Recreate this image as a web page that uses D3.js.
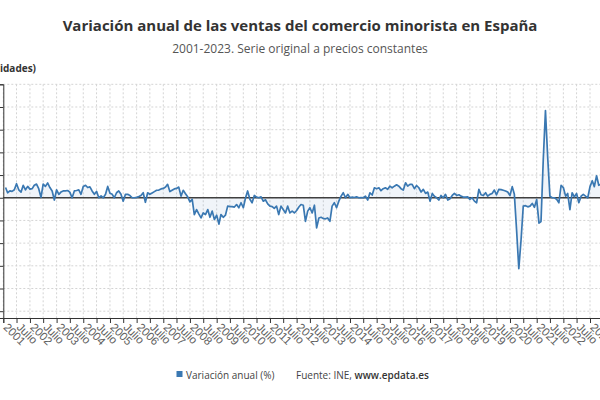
<!DOCTYPE html>
<html><head><meta charset="utf-8">
<script src="https://cdn.jsdelivr.net/npm/d3@7"></script>
<style>
html,body{margin:0;padding:0;background:#fff;overflow:hidden}
svg{display:block;font-family:"Open Sans",sans-serif}
</style></head><body>
<svg id="chart" width="600" height="400"></svg>
<script>
const title = "Variación anual de las ventas del comercio minorista en España";
const subtitle = "2001-2023. Serie original a precios constantes";
const yAxisTitle = "(Unidades)";
const seriesName = "Variación anual (%)";
const sourceLabel = "Fuente: INE, ";
const sourceLink = "www.epdata.es";
const startYear = 2001;
const tickYears = d3.range(2001, 2024);
const midYearLabel = "Julio";
const yTicks = [-50, -40, -30, -20, -10, 0, 10, 20, 30, 40, 50];
// monthly values from January 2001, one row per year
const values = [
  4.5, 2.2, 3, 2.8, 3.5, 6.2, 3.5, 2.5, 5.5, 3.5, 5, 3.8,
  4, 5.5, 6, 4, 0.2, 6, 5, 6.5, 4.5, 3, -1, 3.5,
  1.5, 2.5, 3, 3, 3.2, 2.5, 0, 3, 3.2, 3.5, 1.5, 5,
  5.5, 4.5, 4.8, 3, 1.5, 2.8, 0, 0.8, 0, 1.5, 5, 2,
  1.5, 0, 2.2, 3, 1.5, -1.5, 1.5, 1.5, 1, 0, 0, 0.2,
  0.5, 1, 2.2, -2, 2.2, 1.5, 2.1, 2.7, 3.3, 3.4, 3.9, 4.1,
  4.7, 5.9, 2.7, 3.3, 3.9, 4.1, 4.7, 0.7, 3.3, 1.8, 0.4, -1.8,
  -0.7, -7.4, -5.2, -7.1, -8.9, -6.7, -7.4, -5.2, -8.6, -5.9, -9.6, -7.7,
  -11.6, -7.4, -8.6, -7.7, -3.7, -3.9, -3.9, -4.1, -3, -4.4, -2.2, -4.4,
  0, 3, -0.7, -2.2, 1, 0.3, 0, 0.4, -1.5, -0.9, -2.7, -3.7,
  -3.9, -4.7, -3.7, -7.4, -3.7, -5.2, -6.7, -3.7, -6.7, -5.9, -6.7, -5.6,
  -4.1, -3, -3.3, -10.4, -5.9, -4.4, -6.7, -3.3, -13.3, -8.9, -8.6, -9.2,
  -9.3, -8.9, -10.4, -3.7, -2.2, -4.4, -1.5, 0.7, 2.2, 0, 1.5, 0,
  0.3, 0.1, 0.4, 0, 0.1, 0, 0.7, -1, 2.2, 1.2, 4.4, 4,
  4.4, 3.1, 4, 4.4, 3.7, 5.1, 4.4, 5.1, 5.7, 5.1, 4, 3.4,
  6.6, 5.1, 5.9, 5.9, 4, 5.4, 4.4, 2.5, 3.7, 1.9, 2.5, -1.5,
  1.9, 0.7, 0, -1, 1, 0, 1.5, -1, -0.4, 1, 1.9, 1,
  1.3, 0.7, 0.3, 0.3, 0.4, -0.7, 0, -1.5, -2.2, 3.7, 1.3, 1,
  2.2, 0.7, 1.5, 1.9, 3.4, 1.3, 3.7, 3.6, 3.3, 3, 2.5, 1,
  4.9, 1.5, -14.5, -31.3, -18.5, -3.7, -3.5, -4, -3.7, -2.5, -4.2, -0.8,
  -11.2, -10.5, 17, 38.4, 17.5, 0.7, 0, 0, -0.7, -2.2, 5.5, 4.5,
  0.7, 1.9, -5.2, 2.2, 0.4, 1.9, -2.2, 0.7, 1.5, 0.7, 0, 4.9,
  7.5, 4.9, 9.7, 5.5, 6
];

const lineColor = "#3a78b2";
const svg = d3.select("#chart");
const plotTop = 84.3, plotBottom = 318, plotLeft = 3.3;

// value for month i is plotted at the end of its month
const data = values.map((v, i) => ({ date: new Date(startYear, i + 1, 1), value: v }));

const x = d3.scaleTime()
  .domain([new Date(2001, 0, 1), new Date(2025, 0, 1)])
  .range([plotLeft, plotLeft + 24 * 26.67]);
const y = d3.scaleLinear().domain([-53, 50]).range([plotBottom, plotTop]);
const xEnd = x.range()[1];

const tickDates = [];
tickYears.forEach(yr => { tickDates.push(new Date(yr, 0, 1)); tickDates.push(new Date(yr, 6, 1)); });

// grid
const grid = svg.append("g");
grid.selectAll("line.v").data(tickDates).join("line")
  .attr("x1", d => x(d)).attr("x2", d => x(d))
  .attr("y1", plotTop).attr("y2", plotBottom)
  .attr("stroke", "#d4d4d4").attr("stroke-width", 1).attr("stroke-dasharray", "2,2");
grid.selectAll("line.h").data(yTicks).join("line")
  .attr("x1", plotLeft).attr("x2", xEnd)
  .attr("y1", d => y(d)).attr("y2", d => y(d))
  .attr("stroke", "#d4d4d4").attr("stroke-width", 1).attr("stroke-dasharray", "2,2");

// area + line
svg.append("path").datum(data)
  .attr("fill", lineColor).attr("fill-opacity", 0.08)
  .attr("d", d3.area().x(d => x(d.date)).y0(y(0)).y1(d => y(d.value)));

svg.append("line")
  .attr("x1", plotLeft).attr("x2", xEnd).attr("y1", y(0)).attr("y2", y(0))
  .attr("stroke", "#404040").attr("stroke-width", 1.5);

svg.append("path").datum(data)
  .attr("fill", "none").attr("stroke", lineColor).attr("stroke-width", 1.7)
  .attr("stroke-linejoin", "round")
  .attr("d", d3.line().x(d => x(d.date)).y(d => y(d.value)));

// axes (y tick labels fall outside the visible frame, only tick marks show)
const yAxis = svg.append("g").attr("transform", `translate(${plotLeft},0)`)
  .call(d3.axisLeft(y).tickValues(yTicks).tickSize(4).tickFormat(""));
yAxis.select(".domain").attr("stroke", "#333");
yAxis.selectAll("line").attr("stroke", "#333");

const xAxis = svg.append("g").attr("transform", `translate(0,${plotBottom})`)
  .call(d3.axisBottom(x).tickValues(tickDates).tickSize(5)
    .tickFormat(d => d.getMonth() === 0 ? String(d.getFullYear()) : midYearLabel));
xAxis.select(".domain").attr("stroke", "#333");
xAxis.selectAll("line").attr("stroke", "#333");
xAxis.selectAll("text")
  .attr("y", null).attr("dy", null).attr("x", null)
  .attr("text-anchor", "start")
  .attr("transform", "translate(-1,10) rotate(45)")
  .attr("fill", "#606060").style("font-size", "11.5px");

// titles
svg.append("text").attr("x", 300).attr("y", 31).attr("text-anchor", "middle")
  .style("font-size", "15px").style("font-weight", "bold").attr("fill", "#333").text(title);
svg.append("text").attr("x", 300).attr("y", 53).attr("text-anchor", "middle")
  .style("font-size", "12px").attr("fill", "#555").text(subtitle);
svg.append("text").attr("x", 36).attr("y", 72).attr("text-anchor", "end")
  .style("font-size", "10px").style("font-weight", "bold").attr("fill", "#333").text(yAxisTitle);

// legend
svg.append("rect").attr("x", 176.5).attr("y", 371).attr("width", 6).attr("height", 6).attr("fill", lineColor);
svg.append("text").attr("x", 186).attr("y", 378.5).style("font-size", "10px").attr("fill", "#444").text(seriesName);
const src = svg.append("text").attr("x", 296).attr("y", 378.5).style("font-size", "10px").attr("fill", "#444");
src.append("tspan").text(sourceLabel);
src.append("tspan").style("font-weight", "600").attr("fill", "#333").text(sourceLink);
</script>
</body></html>
